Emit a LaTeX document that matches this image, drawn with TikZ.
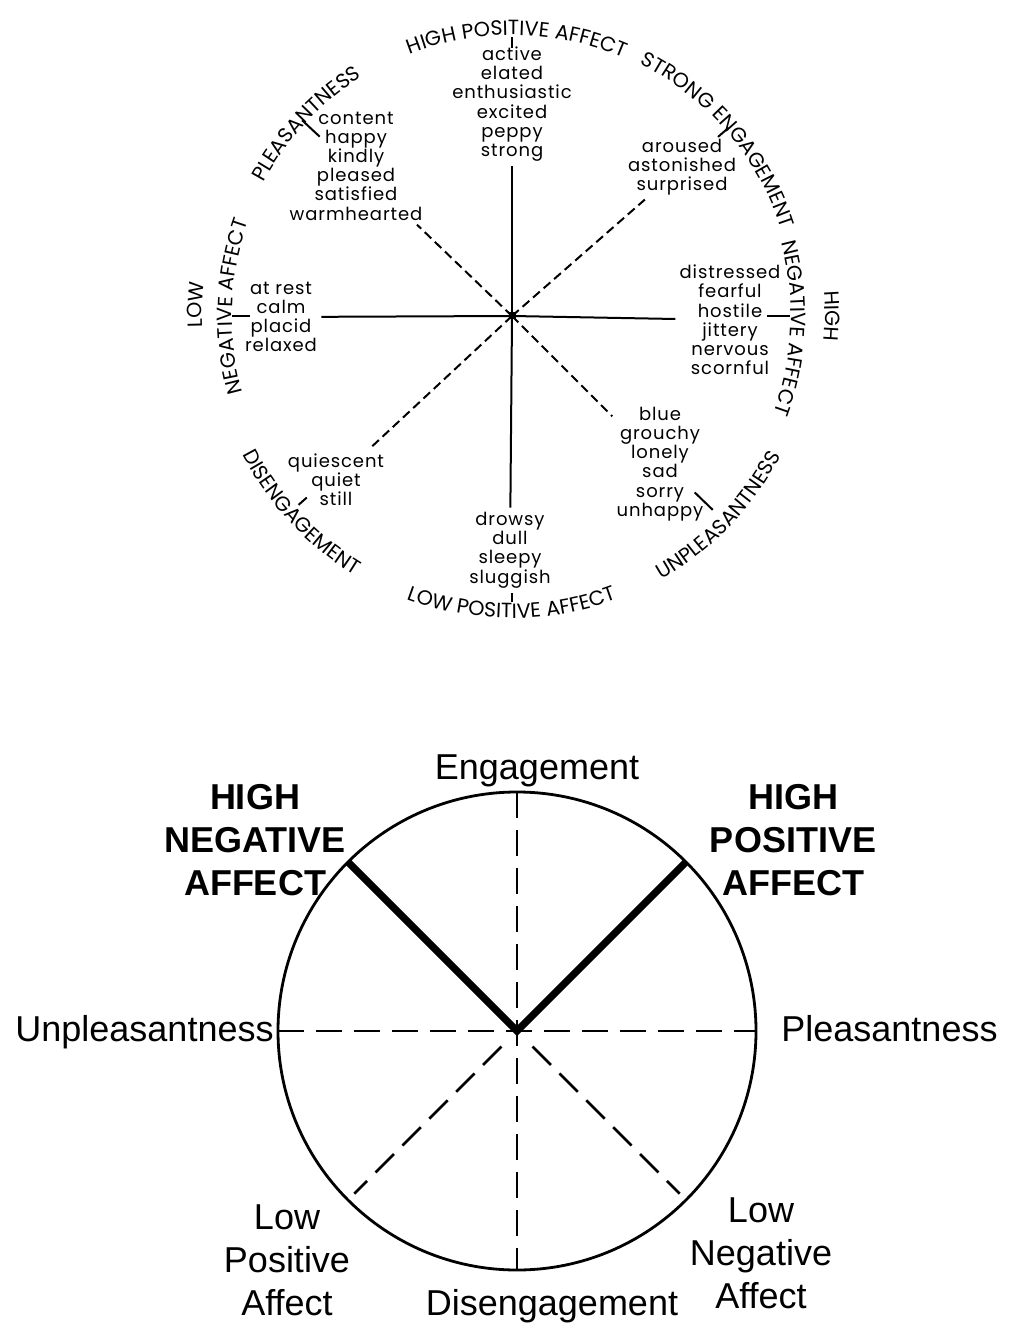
\documentclass[tikz,border=0pt]{standalone}
\usepackage{fontspec}
\usetikzlibrary{calc,decorations.text}
\setmainfont{Liberation Sans}
\newfontfamily\wordfont[LetterSpace=5]{Poppins}
\newfontfamily\capfont[LetterSpace=1]{Poppins}

\tikzset{
  words/.style={align=center, inner sep=2pt, font=\wordfont\fontsize{9}{9.6}\selectfont},
  axis/.style={line width=1pt},
  diag/.style={line width=1pt, dash pattern=on 4.5pt off 2.5pt},
  tick/.style={line width=1pt},
  arclab/.style={decorate, decoration={text along path, text align=center,
      text={|\capfont\fontsize{10.3}{12}\selectfont|#1}}},
  rim/.style={line width=1.4pt},
  bigdash/.style={line width=1.3pt, dash pattern=on 13pt off 6pt},
  pole/.style={line width=3.6pt},
  big/.style={align=center, inner sep=0pt, font=\fontsize{18}{21.5}\selectfont},
  bigbold/.style={big, font=\bfseries\fontsize{18}{21.5}\selectfont}
}

\begin{document}
\begin{tikzpicture}[x=0.5pt,y=0.5pt]
    \useasboundingbox (0,0) rectangle (1013,-1331);

    % upper circumplex
    \coordinate (c) at (512,-316);

    \node[words] (hpaw) at (512,-104) {active\\elated\\enthusiastic\\excited\\peppy\\strong};
    \node[words] (plw) at (356,-166) {content\\happy\\kindly\\pleased\\satisfied\\warmhearted};
    \node[words] (sew) at (682,-167) {aroused\\astonished\\surprised};
    \node[words] (hnaw) at (730,-320) {distressed\\fearful\\hostile\\jittery\\nervous\\scornful};
    \node[words] (unw) at (660,-464) {blue\\grouchy\\lonely\\sad\\sorry\\unhappy};
    \node[words] (lpaw) at (510,-550) {drowsy\\dull\\sleepy\\sluggish};
    \node[words] (dew) at (336,-480) {quiescent\\quiet\\still};
    \node[words] (lnaw) at (281,-317) {at rest\\calm\\placid\\relaxed};

    \draw[axis] (c) -- (hpaw);
    \draw[axis] (c) -- (lpaw);
    \draw[axis] (c) -- (lnaw);
    \draw[axis] (c) -- (hnaw);
    \draw[diag] (c) -- (plw);
    \draw[diag] (c) -- (sew);
    \draw[diag] (c) -- (dew);
    \draw[diag] (c) -- (unw);
    \fill (c) ++(-3.5,-3.5) rectangle ++(7,7);

    \foreach \a/\ra/\rb in {90/268/279, 137/263/287, 41/273/287, 0/255/278,
                            180/262/280, 316/254/279, 270/277/286, 221.5/274/285}
        \draw[tick] ($(c)+(\a:\ra)$) -- ($(c)+(\a:\rb)$);

    \path[arclab=HIGH POSITIVE AFFECT] (c) ++(129:281) arc[start angle=129, end angle=49, radius=281];
    \path[arclab=PLEASANTNESS] (c) ++(173:282) arc[start angle=173, end angle=101, radius=282];
    \path[arclab=STRONG ENGAGEMENT] (c) ++(80:283) arc[start angle=80, end angle=1, radius=283];
    \path[arclab=HIGH] (c) ++(20:313) arc[start angle=20, end angle=-20, radius=313];
    \path[arclab=NEGATIVE AFFECT] (c) ++(36:279) arc[start angle=36, end angle=-41, radius=279];
    \path[arclab=LOW] (c) ++(198:310) arc[start angle=198, end angle=158, radius=310];
    \path[arclab=NEGATIVE AFFECT] (c) ++(217:280) arc[start angle=217, end angle=139, radius=280];
    \path[arclab=DISENGAGEMENT] (c) ++(188:303) arc[start angle=188, end angle=258, radius=303];
    \path[arclab=LOW POSITIVE AFFECT] (c) ++(229:302) arc[start angle=229, end angle=311, radius=302];
    \path[arclab=UNPLEASANTNESS] (c) ++(278:303) arc[start angle=278, end angle=354, radius=303];

    % lower circle
    \coordinate (o) at (517,-1031);
    \coordinate (top) at ($(o)+(90:239)$);
    \coordinate (bot) at ($(o)+(270:239)$);
    \coordinate (lft) at ($(o)+(180:239)$);
    \coordinate (rgt) at ($(o)+(0:239)$);
    \coordinate (hn) at ($(o)+(135:239)$);
    \coordinate (hp) at ($(o)+(45:239)$);
    \coordinate (lp0) at ($(o)+(225:22)$);
    \coordinate (lp) at ($(o)+(225:230)$);
    \coordinate (ln0) at ($(o)+(315:22)$);
    \coordinate (ln) at ($(o)+(315:230)$);

    \draw[rim] (o) circle[radius=239];
    \draw[bigdash] (top) -- (bot);
    \draw[bigdash] (lft) -- (rgt);
    \draw[bigdash] (lp0) -- (lp);
    \draw[bigdash] (ln0) -- (ln);
    \draw[pole] (hn) -- (o) -- (hp);

    \node[big, anchor=base] (eng) at (537,-779) {Engagement};
    \node[big, anchor=base east] (unp) at (274,-1041) {Unpleasantness};
    \node[big, anchor=base west] (ple) at (781,-1041) {Pleasantness};
    \node[big, anchor=base] (dis) at (552,-1315) {Disengagement};
    \node[bigbold] (hna) at (255,-840) {HIGH\\NEGATIVE\\AFFECT};
    \node[bigbold] (hpa) at (793,-840) {HIGH\\POSITIVE\\AFFECT};
    \node[big] (lpa) at (287,-1260) {Low\\Positive\\Affect};
    \node[big] (lna) at (761,-1253) {Low\\Negative\\Affect};

\end{tikzpicture}
\end{document}
